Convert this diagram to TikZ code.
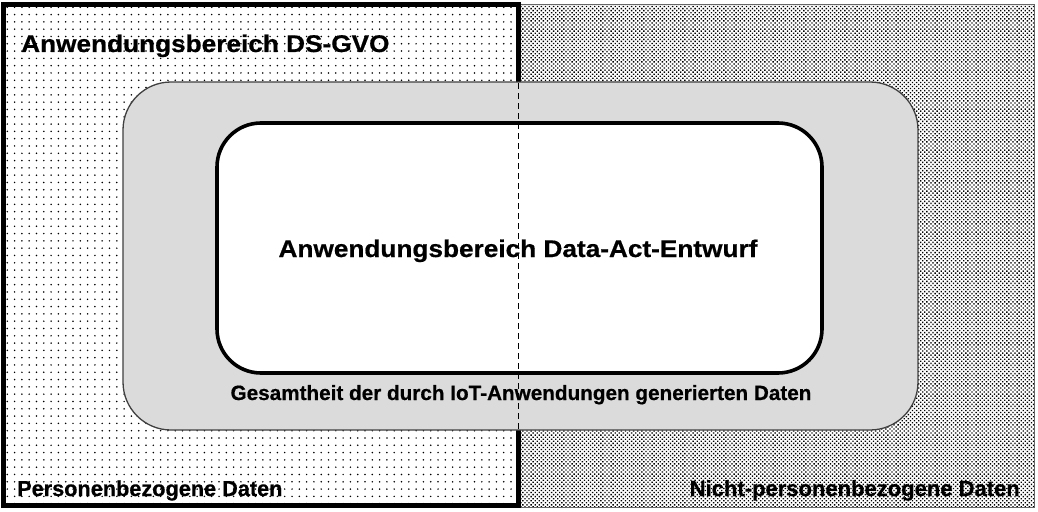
\documentclass[tikz,border=0pt]{standalone}
\usepackage{fontspec}
\setmainfont{Liberation Sans}[BoldFeatures={FakeBold=0.6}]
\usetikzlibrary{patterns.meta}
\tikzset{
  lbl/.style={inner sep=0pt, font=\bfseries},
  sparsedots/.style={pattern={Dots[distance=7.3pt, radius=0.85pt]}, pattern color=black},
  densedots/.style={pattern={Dots[distance=2.9pt, angle=45, radius=0.95pt]}, pattern color=black},
  midbox/.style={fill=black!14, draw=black!75, line width=1.3pt, rounded corners=48pt},
  innerbox/.style={fill=white, draw=black, line width=3.6pt, rounded corners=44pt},
  divider/.style={draw=black, line width=1pt, dash pattern=on 6pt off 4pt},
}
\begin{document}
\begin{tikzpicture}[x=1pt,y=-1pt]
\useasboundingbox (0,0) rectangle (1038,511);
\fill[white] (0,0) rectangle (1038,511);
% right region: non-personal data
\fill[white] (518,5) rectangle (1034,507);
\path[densedots] (518,5) rectangle (1034,507);
\draw[black!60, line width=1pt] (518,5) rectangle (1034,507);
% left region: DS-GVO
\fill[white] (3.5,4.5) rectangle (518,505.5);
\path[sparsedots] (3.5,4.5) rectangle (518,505.5);
\draw[black, line width=5pt] (3.5,4.5) rectangle (518,505.5);
% middle region: all IoT data
\path[midbox] (123,82) rectangle (918,430);
% inner region: Data Act
\path[innerbox] (217,123) rectangle (822,373);
\coordinate (dtop) at (518,83);
\coordinate (dbot) at (518,429);
\draw[divider] (dtop) -- (dbot);
% labels
\node[lbl, anchor=base west] (dsgvo) at (21,52) {\fontsize{26.2}{30}\selectfont\scalebox{1}[0.92]{Anwendungsbereich DS-GVO}};
\node[lbl, anchor=base] (dataact) at (518,257) {\fontsize{26.2}{30}\selectfont\scalebox{1}[0.92]{Anwendungsbereich Data-Act-Entwurf}};
\node[lbl, anchor=base] (iot) at (521,400) {\fontsize{20.7}{24}\selectfont Gesamtheit der durch IoT-Anwendungen generierten Daten};
\node[lbl, anchor=base west] (pers) at (17,496) {\fontsize{21.7}{25}\selectfont Personenbezogene Daten};
\node[lbl, anchor=base east] (nonpers) at (1020,496) {\fontsize{22}{25}\selectfont Nicht-personenbezogene Daten};
\end{tikzpicture}
\end{document}
